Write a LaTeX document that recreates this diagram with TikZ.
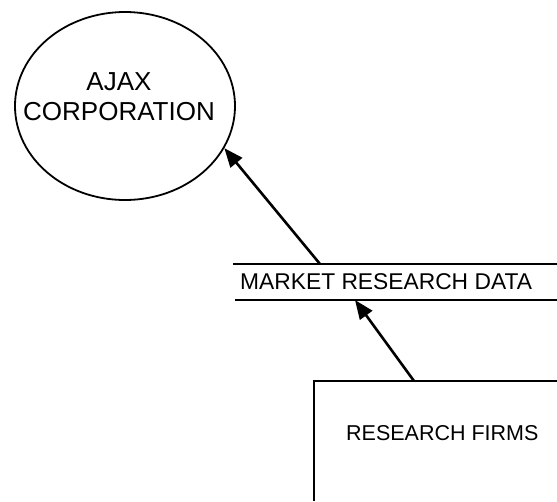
\documentclass[tikz,border=0pt]{standalone}
\usepackage{fontspec}
\setmainfont{Liberation Sans}
\usetikzlibrary{arrows.meta,shapes.geometric,positioning}

\tikzset{
  entity/.style={draw, ellipse, line width=1.8pt, minimum width=220pt, minimum height=188pt, inner sep=0pt},
  flow/.style={-{Triangle[length=19pt,width=15pt]}, line width=2.6pt},
  bigtext/.style={font=\fontsize{26}{30}\selectfont, align=center},
  smalltext/.style={font=\fontsize{22.8}{26}\selectfont, anchor=west, inner sep=0pt},
  edge/.style={line width=1.8pt}
}

\begin{document}
\begin{tikzpicture}[x=1pt,y=-1pt]
\useasboundingbox (0,0) rectangle (557,501);
% Process
\node[entity] (ajax) at (125,106) {};
\node[bigtext] (ajaxlabel) at (119,97) {AJAX\\CORPORATION};
% Data store
\draw[edge] (233,264) -- (557,264);
\draw[edge] (235,300) -- (557,300);
\node[smalltext] (store) at (240,282) {MARKET RESEARCH DATA};
% External entity
\draw[edge] (557,381) -- (314,381) -- (314,501);
\node[smalltext, font=\fontsize{21.5}{26}\selectfont] (firms) at (346,433) {RESEARCH FIRMS};
% Flows
\coordinate (storetop) at (320,264);
\coordinate (storebot) at (355,300);
\coordinate (firmstop) at (414,381);
\draw[flow] (storetop) -- (ajax.-23);
\draw[flow] (firmstop) -- (storebot);
\end{tikzpicture}
\end{document}
